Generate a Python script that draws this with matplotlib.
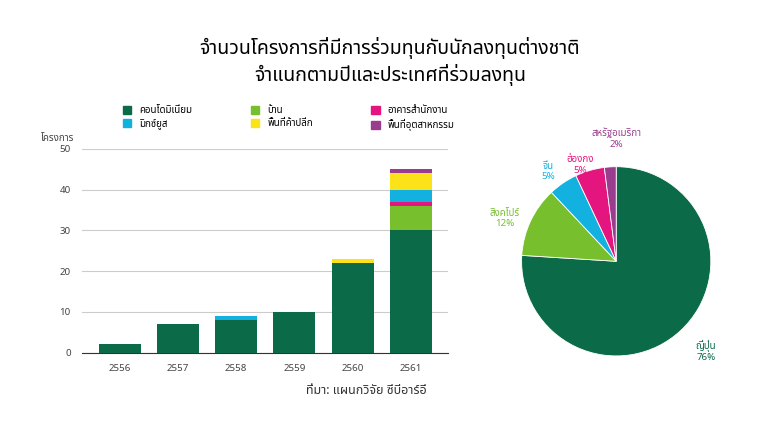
import matplotlib
matplotlib.use("Agg")
import matplotlib.pyplot as plt
from matplotlib import font_manager as fm
from matplotlib.patches import Patch

names = {f.name for f in fm.fontManager.ttflist}
thai = [n for n in ["Noto Sans Thai", "Noto Sans Thai UI", "Loma", "Garuda", "Tlwg Typo", "Kinnari", "Norasi", "Sarabun", "Tahoma", "Leelawadee UI"] if n in names]
plt.rcParams['font.family'] = thai + ['DejaVu Sans']

years = ["2556", "2557", "2558", "2559", "2560", "2561"]
series_names = ["คอนโดมิเนียม", "บ้าน", "อาคารสำนักงาน", "มิกซ์ยูส", "พื้นที่ค้าปลีก", "พื้นที่อุตสาหกรรม"]
condo = [2, 7, 8, 10, 22, 30]
house = [0, 0, 0, 0, 0, 6]
office = [0, 0, 0, 0, 0, 1]
mixed = [0, 0, 1, 0, 0, 3]
retail = [0, 0, 0, 0, 1, 4]
industrial = [0, 0, 0, 0, 0, 1]
colors = ["#0b6a48", "#77bf2c", "#e5157f", "#12b1e0", "#fbe219", "#9b3d8e"]

countries = ["ญี่ปุ่น", "สิงคโปร์", "จีน", "ฮ่องกง", "สหรัฐอเมริกา"]
shares = [76, 12, 5, 5, 2]
pie_colors = ["#0b6a48", "#77bf2c", "#12b1e0", "#e5157f", "#9b3d8e"]

fig = plt.figure(figsize=(7.8, 4.38), dpi=100)
fig.text(0.5, 0.86, "จำนวนโครงการที่มีการร่วมทุนกับนักลงทุนต่างชาติ\nจำแนกตามปีและประเทศที่ร่วมลงทุน",
         ha='center', va='center', fontsize=14, fontweight='bold', linespacing=1.3)

ax = fig.add_axes([0.105, 0.195, 0.47, 0.465])
bottom = [0]*6
for vals, c, n in zip([condo, house, office, mixed, retail, industrial], colors, series_names):
    ax.bar(years, vals, bottom=bottom, color=c, width=0.72, label=n, zorder=3)
    bottom = [b+v for b, v in zip(bottom, vals)]
ax.set_ylim(0, 50)
ax.set_yticks(range(0, 51, 10))
ax.grid(axis='y', color='#cccccc', lw=0.8, zorder=0)
for s in ['top', 'right', 'left']:
    ax.spines[s].set_visible(False)
ax.spines['bottom'].set_color('#333333')
ax.tick_params(axis='both', length=0, labelsize=7, colors='#444444', pad=8)
ax.text(-0.02, 1.04, "โครงการ", transform=ax.transAxes, ha='right', fontsize=7, color='#444444')

handles = [Patch(color=c) for c in colors]
order = [0, 3, 1, 4, 2, 5]
fig.legend([handles[i] for i in order], [series_names[i] for i in order], ncol=3,
           loc='center', bbox_to_anchor=(0.37, 0.73), frameon=False, fontsize=7,
           handlelength=0.9, handleheight=0.9, columnspacing=6, labelspacing=0.4)

fig.text(0.47, 0.1, "ที่มา: แผนกวิจัย ซีบีอาร์อี", ha='center', fontsize=9, color='#333333')

pax = fig.add_axes([0.6, 0.155, 0.38, 0.54])
wedges, _ = pax.pie(shares, colors=pie_colors, startangle=90, counterclock=False,
                    wedgeprops=dict(linewidth=0.6, edgecolor='white'))
pax.set_aspect('equal')
pax.set_xlim(-1.3, 1.3)
pax.set_ylim(-1.15, 1.35)
lab_pos = [(0.95, -0.95), (-1.18, 0.45), (-0.72, 0.95), (-0.38, 1.02), (0.0, 1.3)]
for (x, y), n, s, c in zip(lab_pos, countries, shares, pie_colors):
    pax.text(x, y, f"{n}\n{s}%", color=c, fontsize=7, ha='center', va='center', fontweight='bold')

fig.savefig("out.png", dpi=100)
